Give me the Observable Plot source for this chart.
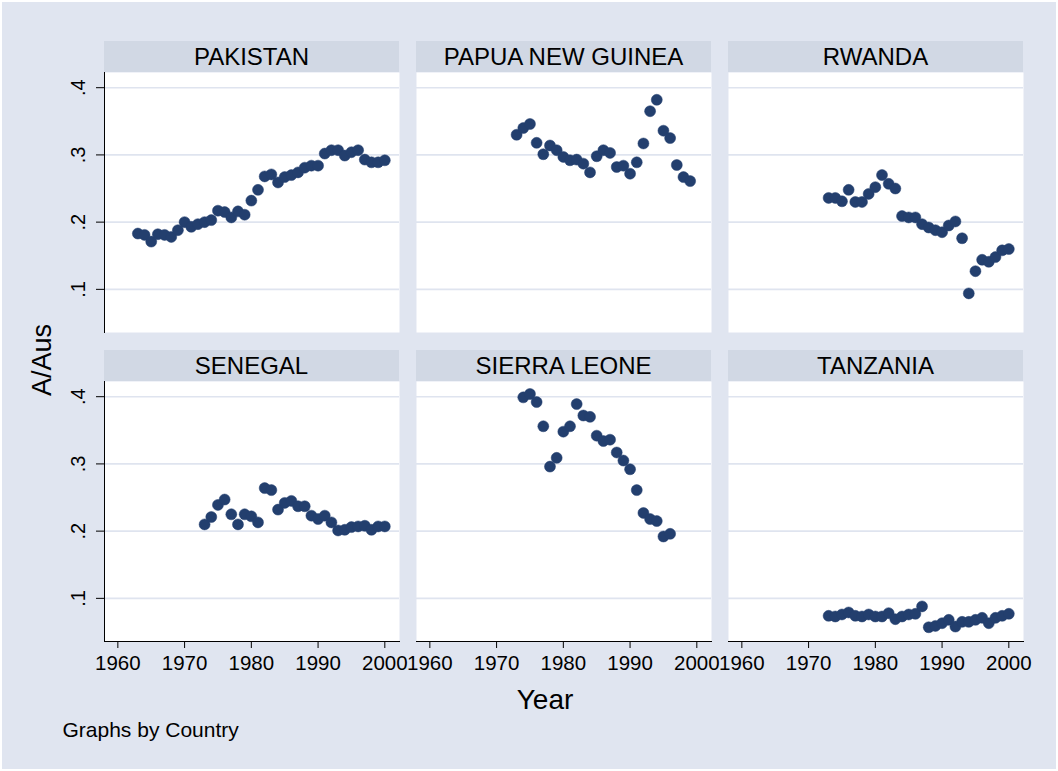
<!DOCTYPE html>
<html>
<head>
<meta charset="utf-8">
<script src="https://cdn.jsdelivr.net/npm/d3@7"></script>
<script src="https://cdn.jsdelivr.net/npm/@observablehq/plot@0.6"></script>
<style>
  html, body { margin: 0; padding: 0; background: #ffffff; }
  body { width: 1058px; height: 771px; position: relative; overflow: hidden;
         font-family: "Liberation Sans", Arial, sans-serif; }
  #bg { position: absolute; left: 2px; top: 2px; width: 1054px; height: 767px; background: #e0e5f0; }
  .strip { position: absolute; background: #d1d8e4; color: #000; text-align: center;
           font-size: 24px; }
  .panel { position: absolute; }
  .lbl { position: absolute; color: #000; white-space: nowrap; line-height: 1; }
</style>
</head>
<body>
<div id="bg"></div>
<div id="root"></div>
<script>
// ---- Data ----
const countries = ["PAKISTAN", "PAPUA NEW GUINEA", "RWANDA", "SENEGAL", "SIERRA LEONE", "TANZANIA"];
const firstYear = [1963, 1973, 1973, 1973, 1974, 1973];

const pakistan = [0.183, 0.181, 0.171, 0.182, 0.181, 0.178, 0.188, 0.200, 0.193, 0.197,
                  0.200, 0.203, 0.217, 0.215, 0.207, 0.216, 0.211, 0.232, 0.248, 0.268,
                  0.271, 0.259, 0.267, 0.270, 0.274, 0.281, 0.284, 0.284, 0.302, 0.307,
                  0.307, 0.299, 0.304, 0.307, 0.293, 0.289, 0.289, 0.292];
const papuaNewGuinea = [0.330, 0.340, 0.346, 0.318, 0.301, 0.314, 0.307, 0.297, 0.292, 0.293,
                        0.287, 0.274, 0.298, 0.307, 0.303, 0.282, 0.284, 0.272, 0.289, 0.317,
                        0.365, 0.382, 0.336, 0.325, 0.285, 0.267, 0.261];
const rwanda = [0.236, 0.236, 0.231, 0.248, 0.230, 0.230, 0.242, 0.252, 0.270, 0.257,
                0.250, 0.209, 0.207, 0.207, 0.197, 0.192, 0.188, 0.185, 0.195, 0.201,
                0.176, 0.094, 0.127, 0.144, 0.141, 0.148, 0.158, 0.160];
const senegal = [0.210, 0.221, 0.239, 0.247, 0.225, 0.210, 0.225, 0.222, 0.213, 0.264,
                 0.261, 0.232, 0.242, 0.245, 0.237, 0.237, 0.223, 0.218, 0.223, 0.213,
                 0.201, 0.202, 0.206, 0.207, 0.208, 0.202, 0.207, 0.207];
const sierraLeone = [0.399, 0.404, 0.392, 0.356, 0.296, 0.309, 0.348, 0.356, 0.389, 0.372,
                     0.370, 0.342, 0.334, 0.336, 0.317, 0.305, 0.292, 0.261, 0.227, 0.218,
                     0.215, 0.192, 0.196];
const tanzania = [0.074, 0.073, 0.076, 0.079, 0.074, 0.073, 0.076, 0.073, 0.073, 0.078,
                  0.069, 0.073, 0.076, 0.077, 0.088, 0.057, 0.059, 0.063, 0.068, 0.058,
                  0.065, 0.065, 0.068, 0.071, 0.063, 0.071, 0.074, 0.077];
const seriesValues = [pakistan, papuaNewGuinea, rwanda, senegal, sierraLeone, tanzania];

const xTicks = [1960, 1970, 1980, 1990, 2000];
const yTicks = [0.1, 0.2, 0.3, 0.4];
const yTickLabels = [".1", ".2", ".3", ".4"];

// ---- Layout ----
const colX = [104, 416, 728];
const rowTop = [72, 381];
const panelW = 295, panelH = 260, stripH = 31;
const ML = 60, MR = 10, MT = 5, MB = 50;
const markerColor = "#233f6e";

const root = document.getElementById("root");

countries.forEach((name, i) => {
  const c = i % 3, r = Math.floor(i / 3);
  const isLeft = c === 0, isBottom = r === 1;
  const data = seriesValues[i].map((v, k) => ({year: firstYear[i] + k, value: v}));

  const strip = document.createElement("div");
  strip.className = "strip";
  strip.style.left = colX[c] + "px";
  strip.style.top = (rowTop[r] - stripH) + "px";
  strip.style.width = panelW + "px";
  strip.style.height = stripH + "px";
  strip.style.lineHeight = stripH + "px";
  strip.textContent = name;
  root.appendChild(strip);

  const chart = Plot.plot({
    width: panelW + ML + MR,
    height: panelH + MT + MB,
    marginLeft: ML, marginRight: MR, marginTop: MT, marginBottom: MB,
    style: {background: "transparent", color: "#000", fontSize: "20.5px",
            fontFamily: '"Liberation Sans", Arial, sans-serif', overflow: "visible"},
    x: {domain: [1958, 2002.2], axis: null},
    y: {domain: [0.0358, 0.4226], axis: null},
    marks: [
      Plot.frame({fill: "white", stroke: null}),
      Plot.gridY(yTicks, {stroke: "#dfe4ef", strokeOpacity: 1, strokeWidth: 1.6}),
      isLeft ? Plot.axisY(yTicks, {tickSize: 8, tickRotate: -90, tickPadding: 12,
        tickFormat: d => yTickLabels[yTicks.indexOf(d)], label: null, fontSize: 20}) : null,
      isLeft ? Plot.frame({anchor: "left", stroke: "#000", strokeWidth: 1}) : null,
      isBottom ? Plot.axisX(xTicks, {tickSize: 7, tickPadding: 7,
        tickFormat: d => String(d), label: null, fontSize: 20.5}) : null,
      isBottom ? Plot.frame({anchor: "bottom", stroke: "#000", strokeWidth: 1}) : null,
      Plot.dot(data, {x: "year", y: "value", r: 5.5, fill: markerColor, stroke: markerColor, strokeWidth: 0.5})
    ]
  });
  const wrap = document.createElement("div");
  wrap.className = "panel";
  wrap.style.left = (colX[c] - ML) + "px";
  wrap.style.top = (rowTop[r] - MT) + "px";
  wrap.appendChild(chart);
  root.appendChild(wrap);
});

function label(text, x, y, size, extra) {
  const d = document.createElement("div");
  d.className = "lbl";
  d.textContent = text;
  d.style.left = x + "px";
  d.style.top = y + "px";
  d.style.fontSize = size + "px";
  d.style.transform = extra;
  root.appendChild(d);
}
label("A/Aus", 42, 360, 27, "translate(-50%,-50%) rotate(-90deg)");
label("Year", 545, 700, 28, "translate(-50%,-50%)");
label("Graphs by Country", 62.5, 729, 21, "translate(0,-50%)");
</script>
</body>
</html>
